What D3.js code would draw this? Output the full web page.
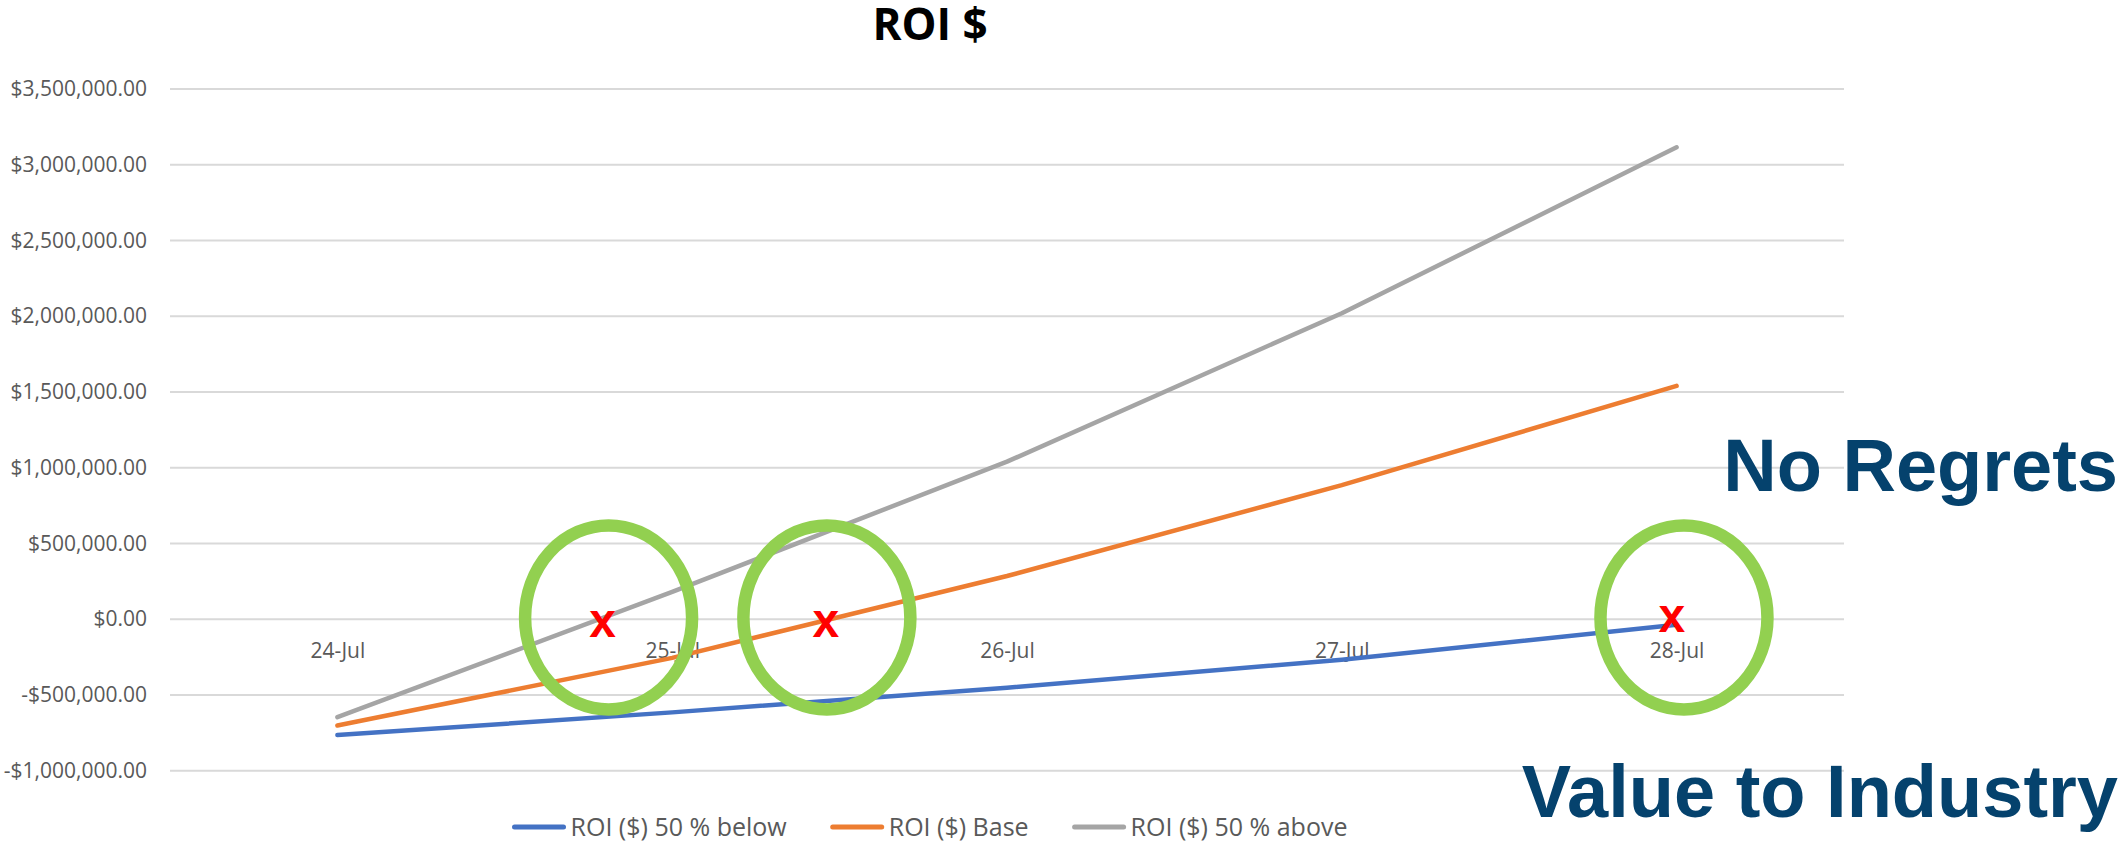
<!DOCTYPE html>
<html>
<head>
<meta charset="utf-8">
<script src="https://cdn.jsdelivr.net/npm/d3@7"></script>
<style>
  body { margin: 0; background: #fff; }
  svg { display: block; }
</style>
</head>
<body>
<svg id="plot" width="2123" height="846"></svg>
<script>
// chart data
const dates = ["24-Jul", "25-Jul", "26-Jul", "27-Jul", "28-Jul"];
const below = [-765000, -615000, -452000, -267000, -37000];
const base = [-702000, -255000, 285000, 885000, 1540000];
const above = [-647000, 180000, 1040000, 2020000, 3115000];
const yTicks = [-1000000, -500000, 0, 500000, 1000000, 1500000, 2000000, 2500000, 3000000, 3500000];
const seriesNames = ["ROI ($) 50 % below", "ROI ($) Base", "ROI ($) 50 % above"];
const seriesColors = ["#4472C4", "#ED7D31", "#A5A5A5"];

// annotations: position in category index, value
const rings = [{i: 0.81, v: 12000}, {i: 1.462, v: 12000}, {i: 4.022, v: 12000}];
const marks = [{i: 0.792, v: -32000}, {i: 1.459, v: -32000}, {i: 3.986, v: 0}];

const svg = d3.select("#plot");
const plotL = 170, plotR = 1844, plotT = 89, plotB = 770.7;
const calibri = "'Open Sans', 'Liberation Sans', sans-serif";

const x = d3.scalePoint().domain(dates).range([plotL, plotR]).padding(0.5);
const xi = d3.scaleLinear().domain([0, dates.length - 1]).range([x(dates[0]), x(dates[dates.length - 1])]);
const y = d3.scaleLinear().domain([-1000000, 3500000]).range([plotB, plotT]);

const fmt = d3.format("$,.2f");
function money(v) { return v < 0 ? "-" + fmt(-v) : fmt(v); }

// gridlines
svg.append("g").selectAll("line")
    .data(yTicks)
    .enter().append("line")
        .attr("x1", plotL)
        .attr("x2", plotR)
        .attr("y1", d => y(d))
        .attr("y2", d => y(d))
        .attr("stroke", "#D9D9D9")
        .attr("stroke-width", 2);

// y axis labels
const yAxis = svg.append("g")
    .attr("transform", "translate(" + plotL + ",0)")
    .call(d3.axisLeft(y).tickValues(yTicks).tickFormat(money).tickSize(0).tickPadding(23));
yAxis.select(".domain").remove();
yAxis.selectAll("text")
    .attr("fill", "#595959")
    .attr("font-family", calibri)
    .attr("font-size", "21px");

// x axis labels sit on the zero line
const xAxis = svg.append("g")
    .attr("transform", "translate(0," + y(0) + ")")
    .call(d3.axisBottom(x).tickSize(0).tickPadding(24));
xAxis.select(".domain").remove();
xAxis.selectAll("text")
    .attr("fill", "#595959")
    .attr("font-family", calibri)
    .attr("font-size", "21px");

// series lines
const line = d3.line()
    .x((d, i) => x(dates[i]))
    .y(d => y(d));

[below, base, above].forEach(function(s, k) {
    svg.append("path")
        .datum(s)
        .attr("fill", "none")
        .attr("stroke", seriesColors[k])
        .attr("stroke-width", 4.5)
        .attr("stroke-linecap", "round")
        .attr("stroke-linejoin", "round")
        .attr("d", line);
});

// green rings
svg.append("g").selectAll("ellipse")
    .data(rings)
    .enter().append("ellipse")
        .attr("cx", d => xi(d.i))
        .attr("cy", d => y(d.v))
        .attr("rx", 83.5)
        .attr("ry", 92)
        .attr("fill", "none")
        .attr("stroke", "#92D050")
        .attr("stroke-width", 12.5);

// red x marks
svg.append("g").selectAll("text")
    .data(marks)
    .enter().append("text")
        .attr("x", d => xi(d.i))
        .attr("y", d => y(d.v))
        .attr("dy", "0.26em")
        .attr("text-anchor", "middle")
        .attr("font-family", "'Liberation Sans', Arial, sans-serif")
        .attr("font-weight", "bold")
        .attr("font-size", "48px")
        .attr("fill", "#FF0000")
        .text("x");

// title
svg.append("text")
    .attr("x", 930)
    .attr("y", 40)
    .attr("text-anchor", "middle")
    .attr("font-family", calibri)
    .attr("font-weight", "bold")
    .attr("font-size", "44px")
    .attr("fill", "#000")
    .text("ROI $");

// legend
const legY = 827;
const leg = svg.append("g");
let legX = 0;
seriesNames.forEach(function(name, k) {
    leg.append("line")
        .attr("x1", legX + 2)
        .attr("x2", legX + 51)
        .attr("y1", legY)
        .attr("y2", legY)
        .attr("stroke", seriesColors[k])
        .attr("stroke-width", 5)
        .attr("stroke-linecap", "round");
    const t = leg.append("text")
        .attr("x", legX + 58)
        .attr("y", legY)
        .attr("dy", "0.35em")
        .attr("font-family", calibri)
        .attr("font-size", "25px")
        .attr("fill", "#595959")
        .text(name);
    legX += 58 + t.node().getComputedTextLength() + 44;
});
legX -= 44;
leg.attr("transform", "translate(" + (930 - legX / 2) + ",0)");

// side notes
svg.append("text")
    .attr("x", 2118)
    .attr("y", 491)
    .attr("text-anchor", "end")
    .attr("font-family", "'Liberation Sans', Arial, sans-serif")
    .attr("font-weight", "bold")
    .attr("font-size", "74px")
    .attr("fill", "#05426D")
    .text("No Regrets");

svg.append("text")
    .attr("x", 2118)
    .attr("y", 817)
    .attr("text-anchor", "end")
    .attr("font-family", "'Liberation Sans', Arial, sans-serif")
    .attr("font-weight", "bold")
    .attr("font-size", "74px")
    .attr("fill", "#05426D")
    .text("Value to Industry");
</script>
</body>
</html>
